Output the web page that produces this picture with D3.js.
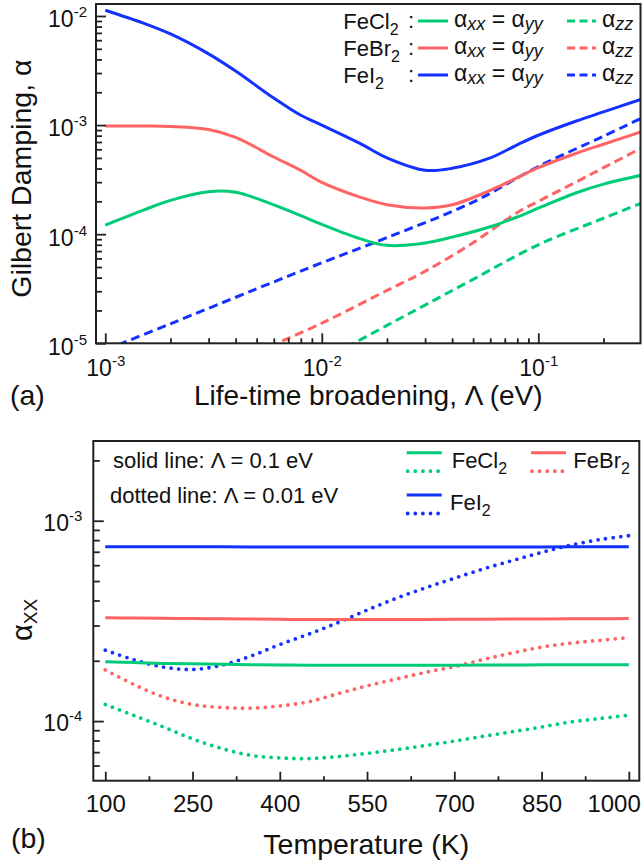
<!DOCTYPE html>
<html>
<head>
<meta charset="utf-8">
<script src="https://cdn.jsdelivr.net/npm/d3@7"></script>
<style>
body { margin: 0; background: #fff; }
text { font-family: Arial, "Liberation Sans", sans-serif; fill: #111; }
</style>
</head>
<body>
<script>
// ---- panel (a): damping vs life-time broadening ----
var lambdaXX = [0.001, 0.0015, 0.002, 0.003, 0.004, 0.006, 0.008, 0.01, 0.015, 0.02, 0.03, 0.04, 0.06, 0.08, 0.1, 0.15, 0.2, 0.3];
var feCl2XX = [1.21e-4, 1.66e-4, 2.04e-4, 2.45e-4, 2.42e-4, 1.86e-4, 1.48e-4, 1.23e-4, 9.1e-5, 7.9e-5, 8.3e-5, 9.4e-5, 1.17e-4, 1.44e-4, 1.73e-4, 2.4e-4, 2.88e-4, 3.47e-4];
var feBr2XX = [9.8e-4, 9.8e-4, 9.7e-4, 9.1e-4, 7.7e-4, 5.1e-4, 3.84e-4, 2.99e-4, 2.19e-4, 1.86e-4, 1.74e-4, 1.86e-4, 2.52e-4, 3.3e-4, 4.07e-4, 5.52e-4, 6.68e-4, 8.7e-4];
var feI2XX = [1.13e-2, 8.6e-3, 6.85e-3, 4.5e-3, 3.13e-3, 1.77e-3, 1.23e-3, 1.0e-3, 6.8e-4, 5.0e-4, 3.85e-4, 4.02e-4, 5.0e-4, 6.6e-4, 8.07e-4, 1.09e-3, 1.32e-3, 1.73e-3];

var lambdaClZZ = [0.01, 0.02, 0.03, 0.05, 0.1, 0.2, 0.3];
var feCl2ZZ = [6.9e-6, 1.46e-5, 2.24e-5, 3.86e-5, 8.0e-5, 1.4e-4, 1.93e-4];
var lambdaBrZZ = [0.005, 0.01, 0.02, 0.03, 0.05, 0.08, 0.1, 0.15, 0.2, 0.3];
var feBr2ZZ = [8.3e-6, 1.53e-5, 3.05e-5, 4.57e-5, 8.36e-5, 1.58e-4, 2.0e-4, 3.02e-4, 4.07e-4, 6.17e-4];
var lambdaIZZ = [0.001, 0.002, 0.005, 0.01, 0.02, 0.05, 0.1, 0.2, 0.3];
var feI2ZZ = [8.7e-6, 1.51e-5, 3.16e-5, 5.47e-5, 9.3e-5, 1.97e-4, 4.17e-4, 7.9e-4, 1.16e-3];

// ---- panel (b): alpha_xx vs temperature ----
var temps = [100, 150, 200, 250, 300, 350, 400, 450, 500, 550, 600, 650, 700, 750, 800, 850, 900, 950, 1000];
var feCl2Solid = [1.98e-4, 1.96e-4, 1.94e-4, 1.93e-4, 1.92e-4, 1.91e-4, 1.905e-4, 1.9e-4, 1.9e-4, 1.9e-4, 1.9e-4, 1.9e-4, 1.9e-4, 1.905e-4, 1.905e-4, 1.91e-4, 1.91e-4, 1.91e-4, 1.91e-4];
var feBr2Solid = [3.28e-4, 3.27e-4, 3.26e-4, 3.25e-4, 3.24e-4, 3.23e-4, 3.22e-4, 3.21e-4, 3.21e-4, 3.21e-4, 3.21e-4, 3.21e-4, 3.22e-4, 3.22e-4, 3.23e-4, 3.23e-4, 3.24e-4, 3.24e-4, 3.25e-4];
var feI2Solid = [7.42e-4, 7.42e-4, 7.41e-4, 7.41e-4, 7.41e-4, 7.4e-4, 7.4e-4, 7.4e-4, 7.4e-4, 7.4e-4, 7.4e-4, 7.4e-4, 7.4e-4, 7.4e-4, 7.4e-4, 7.4e-4, 7.41e-4, 7.41e-4, 7.41e-4];
var feCl2Dot = [1.21e-4, 1.065e-4, 9.35e-5, 8.15e-5, 7.3e-5, 6.75e-5, 6.55e-5, 6.5e-5, 6.65e-5, 6.9e-5, 7.2e-5, 7.55e-5, 7.95e-5, 8.4e-5, 8.85e-5, 9.35e-5, 9.9e-5, 1.03e-4, 1.07e-4];
var feBr2Dot = [1.8e-4, 1.52e-4, 1.32e-4, 1.21e-4, 1.17e-4, 1.16e-4, 1.19e-4, 1.25e-4, 1.37e-4, 1.5e-4, 1.62e-4, 1.75e-4, 1.87e-4, 2.03e-4, 2.19e-4, 2.34e-4, 2.45e-4, 2.53e-4, 2.61e-4];
var feI2Dot = [2.26e-4, 2.02e-4, 1.86e-4, 1.81e-4, 1.9e-4, 2.11e-4, 2.41e-4, 2.72e-4, 3.1e-4, 3.58e-4, 4.1e-4, 4.62e-4, 5.16e-4, 5.75e-4, 6.33e-4, 6.95e-4, 7.55e-4, 8.05e-4, 8.42e-4];

var compounds = ["FeCl", "FeBr", "FeI"];
var colors = ["#00cc78", "#ff6464", "#1432ff"];
var tempTicks = [100, 250, 400, 550, 700, 850, 1000];

var W = 643, H = 865;
var svg = d3.select("body").append("svg").attr("width", W).attr("height", H);

var A = {left: 96, right: 640.5, top: 4, bottom: 343.3};
var B = {left: 93.3, right: 639.3, top: 441, bottom: 780.7};

var xa = d3.scaleLog().domain([9.06e-4, 0.2965]).range([A.left, A.right]);
var ya = d3.scaleLog().domain([1e-5, 1.288e-2]).range([A.bottom, A.top]);
var xb = d3.scaleLinear().domain([79.4, 1018]).range([B.left, B.right]);
var yb = d3.scaleLog().domain([5.04e-5, 2.5e-3]).range([B.bottom, B.top]);

function minorLog(lo, hi) {
  var out = [];
  for (var e = Math.floor(Math.log10(lo)); e <= Math.ceil(Math.log10(hi)); e++)
    for (var m = 2; m <= 9; m++) {
      var v = m * Math.pow(10, e);
      if (v >= lo && v <= hi) out.push(v);
    }
  return out;
}

function powLabels(g, sup) {
  g.selectAll(".tick text").each(function(d) {
    var t = d3.select(this), e = Math.round(Math.log10(d));
    t.text(null);
    t.append("tspan").text("10");
    t.append("tspan").attr("font-size", sup).attr("dy", -10).text(e);
  });
}

function styleAxis(g, fs) {
  g.attr("font-size", fs).attr("font-family", "Arial, 'Liberation Sans', sans-serif");
  g.select(".domain").remove();
  g.selectAll(".tick line").attr("stroke", "#222").attr("stroke-width", 1.8);
}

svg.append("defs").call(function(d) {
  d.append("clipPath").attr("id", "clipA").append("rect")
    .attr("x", A.left).attr("y", A.top).attr("width", A.right - A.left).attr("height", A.bottom - A.top);
  d.append("clipPath").attr("id", "clipB").append("rect")
    .attr("x", B.left).attr("y", B.top).attr("width", B.right - B.left).attr("height", B.bottom - B.top);
});

// ---------- panel (a) ----------
var lineA = d3.line().x(function(d) { return xa(d[0]); }).y(function(d) { return ya(d[1]); }).curve(d3.curveCatmullRom.alpha(0.5));
var gA = svg.append("g").attr("clip-path", "url(#clipA)");
var zzSets = [[lambdaClZZ, feCl2ZZ], [lambdaBrZZ, feBr2ZZ], [lambdaIZZ, feI2ZZ]];
var xxSets = [feCl2XX, feBr2XX, feI2XX];
zzSets.forEach(function(s, i) {
  gA.append("path").datum(d3.zip(s[0], s[1])).attr("d", lineA)
    .attr("fill", "none").attr("stroke", colors[i]).attr("stroke-width", 3).attr("stroke-dasharray", "9,5");
});
xxSets.forEach(function(s, i) {
  gA.append("path").datum(d3.zip(lambdaXX, s)).attr("d", lineA)
    .attr("fill", "none").attr("stroke", colors[i]).attr("stroke-width", 3);
});

svg.append("g").attr("transform", "translate(0," + A.bottom + ")")
  .call(d3.axisBottom(xa).tickValues(minorLog(9.06e-4, 0.2965)).tickSize(-5).tickFormat(""))
  .call(function(g) { styleAxis(g, 23); });
svg.append("g").attr("transform", "translate(0," + A.bottom + ")")
  .call(d3.axisBottom(xa).tickValues([1e-3, 1e-2, 1e-1]).tickSize(-10).tickPadding(16))
  .call(function(g) { styleAxis(g, 23); powLabels(g, 15); });
svg.append("g").attr("transform", "translate(" + A.left + ",0)")
  .call(d3.axisLeft(ya).tickValues(minorLog(1e-5, 1.288e-2)).tickSize(-6).tickFormat(""))
  .call(function(g) { styleAxis(g, 23); });
svg.append("g").attr("transform", "translate(" + A.left + ",0)")
  .call(d3.axisLeft(ya).tickValues([1e-5, 1e-4, 1e-3, 1e-2]).tickSize(-10).tickPadding(9))
  .call(function(g) { styleAxis(g, 23); powLabels(g, 15); g.selectAll(".tick text").attr("dy", "0.47em"); });

svg.append("rect").attr("x", A.left).attr("y", A.top).attr("width", A.right - A.left).attr("height", A.bottom - A.top)
  .attr("fill", "none").attr("stroke", "#222").attr("stroke-width", 2);

svg.append("text").attr("x", (A.left + A.right) / 2).attr("y", 405).attr("text-anchor", "middle")
  .attr("font-size", 28).text("Life-time broadening, \u039B (eV)");
svg.append("text").attr("transform", "translate(31," + ((A.top + A.bottom) / 2 + 5) + ") rotate(-90)")
  .attr("text-anchor", "middle").attr("font-size", 28.5).text("Gilbert Damping, \u03B1");
svg.append("text").attr("x", 10).attr("y", 405).attr("font-size", 28.5).text("(a)");

// legend (a)
var legRows = [21, 48, 75];
compounds.forEach(function(c, i) {
  var y = legRows[i];
  var t = svg.append("text").attr("x", 343.3).attr("y", y + 8).attr("font-size", 22);
  t.append("tspan").text(c);
  t.append("tspan").attr("font-size", 16).attr("dy", 6).text("2");
  svg.append("text").attr("x", 408).attr("y", y + 7).attr("font-size", 22).text(":");
  svg.append("line").attr("x1", 418).attr("x2", 448).attr("y1", y).attr("y2", y)
    .attr("stroke", colors[i]).attr("stroke-width", 3);
  var u = svg.append("text").attr("x", 454).attr("y", y + 6).attr("font-size", 23);
  u.append("tspan").text("\u03B1");
  u.append("tspan").attr("font-size", 18).attr("font-style", "italic").attr("dy", 3).text("xx");
  u.append("tspan").attr("dy", -3).text(" = \u03B1");
  u.append("tspan").attr("font-size", 18).attr("font-style", "italic").attr("dy", 3).text("yy");
  svg.append("line").attr("x1", 567).attr("x2", 596).attr("y1", y).attr("y2", y)
    .attr("stroke", colors[i]).attr("stroke-width", 3).attr("stroke-dasharray", "8,4.5");
  var z = svg.append("text").attr("x", 602).attr("y", y + 6).attr("font-size", 23);
  z.append("tspan").text("\u03B1");
  z.append("tspan").attr("font-size", 18).attr("font-style", "italic").attr("dy", 3).text("zz");
});

// ---------- panel (b) ----------
var lineB = d3.line().x(function(d) { return xb(d[0]); }).y(function(d) { return yb(d[1]); }).curve(d3.curveCatmullRom.alpha(0.5));
var gB = svg.append("g").attr("clip-path", "url(#clipB)");
var solidSets = [feCl2Solid, feBr2Solid, feI2Solid];
var dotSets = [feCl2Dot, feBr2Dot, feI2Dot];
dotSets.forEach(function(s, i) {
  gB.append("path").datum(d3.zip(temps, s)).attr("d", lineB)
    .attr("fill", "none").attr("stroke", colors[i]).attr("stroke-width", 3.8)
    .attr("stroke-linecap", "round").attr("stroke-dasharray", "0,7.6");
});
solidSets.forEach(function(s, i) {
  gB.append("path").datum(d3.zip(temps, s)).attr("d", lineB)
    .attr("fill", "none").attr("stroke", colors[i]).attr("stroke-width", 3);
});

var minorT = d3.range(175, 1000, 150);
svg.append("g").attr("transform", "translate(0," + B.bottom + ")")
  .call(d3.axisBottom(xb).tickValues(minorT).tickSize(-4.5).tickFormat(""))
  .call(function(g) { styleAxis(g, 24); });
svg.append("g").attr("transform", "translate(0," + B.bottom + ")")
  .call(d3.axisBottom(xb).tickValues(tempTicks).tickSize(-9).tickPadding(14).tickFormat(d3.format("d")))
  .call(function(g) {
    styleAxis(g, 24);
    g.selectAll(".tick text").filter(function(d) { return d === 1000; })
      .attr("text-anchor", "end").attr("x", B.right - xb(1000) + 1);
  });
svg.append("g").attr("transform", "translate(" + B.left + ",0)")
  .call(d3.axisLeft(yb).tickValues(minorLog(5.04e-5, 2.5e-3)).tickSize(-6.5).tickFormat(""))
  .call(function(g) { styleAxis(g, 23); });
svg.append("g").attr("transform", "translate(" + B.left + ",0)")
  .call(d3.axisLeft(yb).tickValues([1e-4, 1e-3]).tickSize(-10.5).tickPadding(11))
  .call(function(g) { styleAxis(g, 23); powLabels(g, 15); g.selectAll(".tick text").attr("dy", "0.42em"); });

svg.append("rect").attr("x", B.left).attr("y", B.top).attr("width", B.right - B.left).attr("height", B.bottom - B.top)
  .attr("fill", "none").attr("stroke", "#222").attr("stroke-width", 2);

svg.append("text").attr("x", (B.left + B.right) / 2).attr("y", 854).attr("text-anchor", "middle")
  .attr("font-size", 28.5).text("Temperature (K)");
svg.append("text").attr("x", 11).attr("y", 848).attr("font-size", 28.5).text("(b)");
var yt = svg.append("text").attr("transform", "translate(32,620) rotate(-90)").attr("text-anchor", "middle").attr("font-size", 29);
yt.append("tspan").text("\u03B1");
yt.append("tspan").attr("font-size", 19).attr("dy", 5).text("XX");

svg.append("text").attr("x", 113).attr("y", 468).attr("font-size", 22).text("solid line: \u039B = 0.1 eV");
svg.append("text").attr("x", 110).attr("y", 503).attr("font-size", 22).text("dotted line: \u039B = 0.01 eV");

// legend (b)
var legB = [{x: 406.7, y: 452.7, tx: 451.7}, {x: 531, y: 452.7, tx: 573.3}, {x: 406.7, y: 495, tx: 450}];
compounds.forEach(function(c, i) {
  var p = legB[i];
  svg.append("line").attr("x1", p.x).attr("x2", p.x + 35).attr("y1", p.y).attr("y2", p.y)
    .attr("stroke", colors[i]).attr("stroke-width", 3);
  svg.append("line").attr("x1", p.x + 1).attr("x2", p.x + 35).attr("y1", p.y + 18.5).attr("y2", p.y + 18.5)
    .attr("stroke", colors[i]).attr("stroke-width", 3.8).attr("stroke-linecap", "round").attr("stroke-dasharray", "0,7.6");
  var t = svg.append("text").attr("x", p.tx).attr("y", p.y + 15).attr("font-size", 22);
  t.append("tspan").text(c);
  t.append("tspan").attr("font-size", 16).attr("dy", 6).text("2");
});
</script>
</body>
</html>
